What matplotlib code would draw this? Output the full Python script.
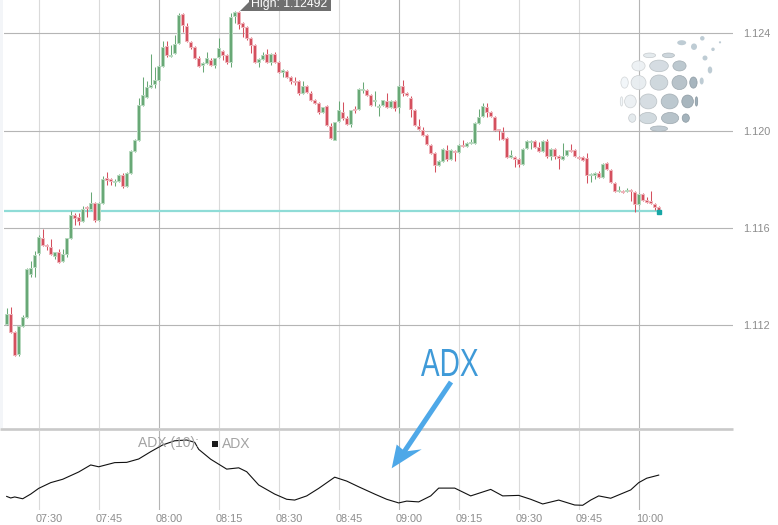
import numpy as np
import pandas as pd
import matplotlib
matplotlib.use('Agg')
import matplotlib.pyplot as plt
import matplotlib.transforms as mtrans
from matplotlib.patches import Polygon, Ellipse, PathPatch, Rectangle
from matplotlib.textpath import TextPath
from matplotlib.font_manager import FontProperties

# 1-minute candles, EUR/USD style quotes
start = '2019-01-01 07:22'
opens = [1.11205, 1.11246, 1.11172, 1.11082, 1.11197, 1.11234, 1.11411, 1.11440, 1.11497, 1.11559,
         1.11530, 1.11522, 1.11485, 1.11501, 1.11464, 1.11493, 1.11559, 1.11653, 1.11645, 1.11629,
         1.11686, 1.11678, 1.11703, 1.11633, 1.11703, 1.11805, 1.11801, 1.11789, 1.11793, 1.11818,
         1.11772, 1.11826, 1.11916, 1.11962, 1.12105, 1.12138, 1.12179, 1.12192, 1.12208, 1.12266,
         1.12348, 1.12307, 1.12319, 1.12360, 1.12479, 1.12430, 1.12364, 1.12344, 1.12299, 1.12270,
         1.12278, 1.12290, 1.12270, 1.12303, 1.12327, 1.12311, 1.12282, 1.12471, 1.12488, 1.12442,
         1.12426, 1.12381, 1.12352, 1.12282, 1.12294, 1.12315, 1.12282, 1.12315, 1.12282, 1.12241,
         1.12245, 1.12220, 1.12204, 1.12204, 1.12155, 1.12183, 1.12155, 1.12126, 1.12114, 1.12077,
         1.12101, 1.12019, 1.11962, 1.12040, 1.12077, 1.12052, 1.12027, 1.12089, 1.12089, 1.12169,
         1.12167, 1.12146, 1.12120, 1.12097, 1.12105, 1.12122, 1.12097, 1.12122, 1.12097, 1.12183,
         1.12155, 1.12134, 1.12085, 1.12019, 1.12003, 1.11982, 1.11941, 1.11908, 1.11859, 1.11875,
         1.11920, 1.11883, 1.11916, 1.11912, 1.11941, 1.11937, 1.11949, 1.11949, 1.12031, 1.12060,
         1.12097, 1.12077, 1.12056, 1.12003, 1.11995, 1.11970, 1.11892, 1.11892, 1.11883, 1.11863,
         1.11929, 1.11953, 1.11957, 1.11933, 1.11916, 1.11957, 1.11896, 1.11925, 1.11896, 1.11883,
         1.11900, 1.11920, 1.11920, 1.11892, 1.11892, 1.11888, 1.11818, 1.11818, 1.11826, 1.11810,
         1.11867, 1.11838, 1.11785, 1.11752, 1.11752, 1.11752, 1.11756, 1.11748, 1.11699, 1.11740,
         1.11715, 1.11711, 1.11699, 1.11686]
highs = [1.11271, 1.11275, 1.11177, 1.11197, 1.11242, 1.11436, 1.11464, 1.11505, 1.11571, 1.11596,
         1.11534, 1.11555, 1.11501, 1.11514, 1.11514, 1.11559, 1.11670, 1.11662, 1.11662, 1.11690,
         1.11690, 1.11748, 1.11707, 1.11707, 1.11814, 1.11830, 1.11805, 1.11801, 1.11822, 1.11826,
         1.11830, 1.11920, 1.11966, 1.12134, 1.12220, 1.12204, 1.12315, 1.12262, 1.12270, 1.12369,
         1.12369, 1.12352, 1.12393, 1.12484, 1.12484, 1.12442, 1.12369, 1.12348, 1.12307, 1.12282,
         1.12323, 1.12299, 1.12299, 1.12381, 1.12332, 1.12315, 1.12484, 1.12492, 1.12492, 1.12447,
         1.12430, 1.12385, 1.12356, 1.12299, 1.12323, 1.12336, 1.12319, 1.12323, 1.12286, 1.12253,
         1.12249, 1.12225, 1.12220, 1.12208, 1.12204, 1.12188, 1.12163, 1.12130, 1.12118, 1.12097,
         1.12105, 1.12031, 1.12036, 1.12122, 1.12118, 1.12060, 1.12085, 1.12101, 1.12175, 1.12200,
         1.12171, 1.12151, 1.12163, 1.12110, 1.12126, 1.12155, 1.12126, 1.12126, 1.12188, 1.12208,
         1.12159, 1.12142, 1.12089, 1.12048, 1.12015, 1.11986, 1.11945, 1.11912, 1.11879, 1.11929,
         1.11941, 1.11925, 1.11920, 1.11945, 1.11962, 1.11953, 1.11966, 1.12036, 1.12089, 1.12114,
         1.12114, 1.12081, 1.12060, 1.12007, 1.12015, 1.11974, 1.11920, 1.11896, 1.11888, 1.11929,
         1.11962, 1.11962, 1.11962, 1.11953, 1.11962, 1.11966, 1.11929, 1.11929, 1.11900, 1.11949,
         1.11920, 1.11945, 1.11925, 1.11896, 1.11896, 1.11908, 1.11826, 1.11830, 1.11834, 1.11867,
         1.11871, 1.11842, 1.11789, 1.11773, 1.11756, 1.11764, 1.11760, 1.11752, 1.11744, 1.11744,
         1.11727, 1.11752, 1.11703, 1.11690]
lows = [1.11201, 1.11168, 1.11074, 1.11074, 1.11193, 1.11230, 1.11399, 1.11399, 1.11489, 1.11526,
        1.11510, 1.11489, 1.11473, 1.11456, 1.11460, 1.11481, 1.11555, 1.11612, 1.11612, 1.11625,
        1.11645, 1.11674, 1.11625, 1.11629, 1.11699, 1.11777, 1.11777, 1.11773, 1.11789, 1.11764,
        1.11768, 1.11822, 1.11912, 1.11957, 1.12101, 1.12134, 1.12175, 1.12175, 1.12204, 1.12262,
        1.12303, 1.12303, 1.12315, 1.12356, 1.12405, 1.12364, 1.12336, 1.12294, 1.12262, 1.12241,
        1.12274, 1.12266, 1.12257, 1.12299, 1.12290, 1.12274, 1.12262, 1.12442, 1.12418, 1.12385,
        1.12373, 1.12319, 1.12278, 1.12262, 1.12290, 1.12278, 1.12270, 1.12278, 1.12237, 1.12220,
        1.12216, 1.12192, 1.12188, 1.12146, 1.12151, 1.12155, 1.12122, 1.12110, 1.12068, 1.12073,
        1.12019, 1.11966, 1.11960, 1.12036, 1.12044, 1.12023, 1.12015, 1.12073, 1.12085, 1.12155,
        1.12142, 1.12101, 1.12101, 1.12060, 1.12101, 1.12093, 1.12093, 1.12081, 1.12073, 1.12142,
        1.12142, 1.12056, 1.12019, 1.12003, 1.11978, 1.11941, 1.11904, 1.11830, 1.11855, 1.11873,
        1.11875, 1.11879, 1.11875, 1.11910, 1.11933, 1.11933, 1.11947, 1.11945, 1.12027, 1.12058,
        1.12056, 1.12056, 1.11999, 1.11962, 1.11962, 1.11888, 1.11888, 1.11851, 1.11851, 1.11859,
        1.11925, 1.11925, 1.11929, 1.11912, 1.11912, 1.11888, 1.11879, 1.11883, 1.11842, 1.11881,
        1.11896, 1.11912, 1.11892, 1.11883, 1.11875, 1.11785, 1.11789, 1.11801, 1.11805, 1.11805,
        1.11838, 1.11785, 1.11748, 1.11748, 1.11744, 1.11748, 1.11711, 1.11666, 1.11694, 1.11711,
        1.11703, 1.11699, 1.11674, 1.11666]
closes = [1.11246, 1.11172, 1.11078, 1.11197, 1.11234, 1.11431, 1.11436, 1.11489, 1.11563, 1.11530,
          1.11526, 1.11493, 1.11501, 1.11460, 1.11493, 1.11559, 1.11653, 1.11641, 1.11629, 1.11678,
          1.11682, 1.11703, 1.11633, 1.11703, 1.11801, 1.11797, 1.11793, 1.11793, 1.11818, 1.11772,
          1.11826, 1.11916, 1.11962, 1.12105, 1.12146, 1.12179, 1.12188, 1.12208, 1.12266, 1.12344,
          1.12311, 1.12311, 1.12356, 1.12475, 1.12434, 1.12369, 1.12344, 1.12299, 1.12266, 1.12278,
          1.12299, 1.12270, 1.12299, 1.12340, 1.12311, 1.12282, 1.12467, 1.12488, 1.12438, 1.12426,
          1.12381, 1.12352, 1.12282, 1.12294, 1.12311, 1.12282, 1.12315, 1.12282, 1.12241, 1.12249,
          1.12220, 1.12204, 1.12200, 1.12155, 1.12183, 1.12159, 1.12126, 1.12114, 1.12077, 1.12097,
          1.12023, 1.11970, 1.12036, 1.12085, 1.12052, 1.12027, 1.12085, 1.12085, 1.12171, 1.12171,
          1.12146, 1.12105, 1.12122, 1.12101, 1.12126, 1.12097, 1.12122, 1.12093, 1.12183, 1.12155,
          1.12146, 1.12089, 1.12023, 1.12007, 1.11982, 1.11945, 1.11908, 1.11859, 1.11875, 1.11925,
          1.11883, 1.11920, 1.11912, 1.11941, 1.11937, 1.11949, 1.11953, 1.12031, 1.12056, 1.12101,
          1.12077, 1.12060, 1.12003, 1.12001, 1.11966, 1.11892, 1.11900, 1.11883, 1.11863, 1.11925,
          1.11957, 1.11957, 1.11933, 1.11916, 1.11957, 1.11896, 1.11925, 1.11896, 1.11888, 1.11896,
          1.11920, 1.11918, 1.11896, 1.11888, 1.11879, 1.11818, 1.11822, 1.11826, 1.11810, 1.11863,
          1.11842, 1.11789, 1.11752, 1.11754, 1.11748, 1.11756, 1.11752, 1.11699, 1.11740, 1.11715,
          1.11707, 1.11703, 1.11686, 1.11668]

# ADX(10) read at these candle numbers
adx_at = [0, 1, 2, 4, 6, 8, 11, 14, 18, 21, 23, 27, 30, 33, 36, 39, 42, 45, 47, 48,
          51, 53, 55, 58, 60, 63, 67, 70, 72, 75, 78, 82, 85, 88, 92, 95, 98, 100, 103, 106,
          108, 112, 116, 121, 124, 128, 131, 134, 138, 142, 144, 146, 148, 151, 156, 158, 160, 163]
adx_vals = [18.3, 17.7, 18.1, 17.4, 19.2, 21.4, 23.6, 24.9, 27.7, 30.4, 29.7, 31.3, 31.4, 32.7, 35.5,
            38.1, 39.7, 40.0, 39.1, 36.4, 32.6, 30.7, 28.8, 29.3, 27.8, 22.7, 19.2, 17.2, 16.9, 18.5,
            21.4, 25.7, 24.2, 22.0, 19.2, 17.2, 15.8, 16.5, 16.2, 18.5, 21.5, 21.5, 18.5, 21.0, 18.5,
            18.7, 17.2, 15.4, 16.9, 15.0, 14.9, 16.9, 18.5, 17.6, 20.8, 23.6, 25.3, 26.5]

price_ticks = [1.112, 1.116, 1.120, 1.124]
price_labels = ['1.112', '1.116', '1.120', '1.124']

times = pd.date_range(start, periods=len(closes), freq='min')
idx = np.arange(len(closes))
o = np.array(opens); h = np.array(highs); l = np.array(lows); c = np.array(closes)

W, H = 778, 525
plt.rcParams['font.family'] = ['Liberation Sans', 'DejaVu Sans']
fig = plt.figure(figsize=(W / 100, H / 100), dpi=100)

def rect(x0, y0, x1, y1):
    return [x0 / W, 1 - y1 / H, (x1 - x0) / W, (y1 - y0) / H]

ax = fig.add_axes(rect(4, 0, 733, 428))
adx_ax = fig.add_axes(rect(4, 431, 733, 510))
for a in (ax, adx_ax):
    for s in a.spines.values():
        s.set_visible(False)
    a.set_xlim(-0.675, 181.575)
    a.set_xticks([])

tick_idx = [i for i, t in enumerate(times) if t.minute % 15 == 0]
for i in tick_idx:
    col = '#b5b5b5' if times[i].minute == 0 else '#dadada'
    ax.axvline(i, color=col, lw=0.8, zorder=0)
    adx_ax.axvline(i, color=col, lw=0.8, zorder=0)
for p in price_ticks:
    ax.axhline(p, color='#b5b5b5', lw=0.8, zorder=0)

# candles
up = c >= o
green, red = '#68a876', '#d4505e'
cols = np.where(up, green, red)
edges = np.where(up, '#b7d9bf', '#efb4bb')
ax.vlines(idx, l, h, colors=cols, lw=0.75, zorder=2)
body_lo = np.minimum(o, c)
body_h = np.maximum(np.abs(c - o), 0.00004)
ax.bar(idx, body_h, bottom=body_lo, width=0.85, color=cols, edgecolor=edges, lw=0.7, zorder=3)

# last price
ax.hlines(c[-1], -0.675, idx[-1], color='#8fdcd7', lw=1.6, zorder=1)
ax.plot(idx[-1], c[-1] - 0.00003, 's', ms=3.5, color='#17a6a5', zorder=4)

ax.set_ylim(1.10778, 1.12537)
ax.yaxis.tick_right()
ax.set_yticks(price_ticks)
ax.set_yticklabels(price_labels)
ax.tick_params(axis='y', length=0, pad=7, labelsize=7.8, labelcolor='#8c8c8c')

# ADX panel
adx_ax.plot(adx_at, adx_vals, color='#111111', lw=0.8, zorder=3)
adx_ax.set_ylim(13.08, 43.46)
adx_ax.set_yticks([])

trans = mtrans.blended_transform_factory(adx_ax.transData, fig.transFigure)
trans = mtrans.offset_copy(trans, fig=fig, x=10.7, y=0, units='dots')
for i in tick_idx:
    adx_ax.text(i, 1 - 519 / H, times[i].strftime('%H:%M'), transform=trans,
                ha='center', va='center', fontsize=7.8, color='#8c8c8c')

# overlay in pixel coords for decorations
ov = fig.add_axes([0, 0, 1, 1], zorder=10)
ov.set_xlim(0, W)
ov.set_ylim(H, 0)
ov.axis('off')
ov.patch.set_alpha(0)

ov.add_patch(Rectangle((0, 0), 3, 428, color='#f3f5f8', lw=0))
ov.plot([0, 733], [429.3, 429.3], color='#c9c9c9', lw=1.9, solid_capstyle='butt')

ov.text(138, 443.5, 'ADX (10):', fontsize=10, color='#a3a3a3', va='center')
ov.add_patch(Rectangle((212.3, 440.7), 6, 6, color='#1a1a1a', lw=0))
ov.text(221.7, 443.5, 'ADX', fontsize=10, color='#a3a3a3', va='center')

# high callout
ov.add_patch(Polygon([(240, 11), (249, 2), (249, -10), (331, -10), (331, 11)],
                     closed=True, color='#6f6f6f', lw=0))
ov.text(251, 7.5, 'High: 1.12492', fontsize=8.8, color='white', va='baseline')

# ADX note with arrow
tp = TextPath((0, 0), 'ADX', size=1, prop=FontProperties(family='Liberation Sans'))
ext = tp.get_extents()
sx = 57 / ext.width
sy = 27 / ext.height
tf = mtrans.Affine2D().translate(-ext.x0, -ext.y0).scale(sx, -sy).translate(421, 376)
ov.add_patch(PathPatch(tf.transform_path(tp), color='#3f9ad8', lw=0))
blue = '#4ea8e8'
ov.plot([451, 404], [382, 452], color=blue, lw=3.6, solid_capstyle='butt')
ov.add_patch(Polygon([(391.7, 468.3), (396.7, 444.5), (405, 451.5), (421.7, 449.3)],
                     closed=True, color=blue, lw=0))

# watermark logo (dotted sphere)
cx, cy, r = 659, 92, 39
light = np.array([0.95, 0.965, 0.975])
dark = np.array([0.60, 0.665, 0.705])
for row, lat in enumerate([-70, -42, -14, 14, 42, 70]):
    cb = np.cos(np.radians(lat))
    n = max(4, int(round(11 * cb)))
    for k in range(n):
        lon = -180 + (k + 0.5 * (row % 2)) * 360.0 / n
        cl = np.cos(np.radians(lon))
        if cl < 0.12:
            continue
        x = cx + r * cb * np.sin(np.radians(lon))
        y = cy - r * np.sin(np.radians(lat))
        w = 2 * np.pi * r * cb / n * 0.82 * cl
        hh = r * np.radians(28) * 0.82 * cb * (0.55 + 0.45 * cl)
        if w < 1.5 or hh < 1.5:
            continue
        t = np.clip(0.45 + 0.55 * (x - cx) / r + 0.15 * (y - cy) / r, 0, 1)
        fc = light * (1 - t) + dark * t
        ov.add_patch(Ellipse((x, y), w, hh, facecolor=fc, edgecolor=fc * 0.86, lw=0.5, alpha=0.95))
for (x, y, w, hh) in [(681.7, 42.7, 9, 5), (694, 46.7, 6, 6.5), (702.3, 38.3, 4.5, 4.5),
                      (713, 49.3, 3.5, 3.5), (720, 42.3, 2.2, 2.2), (705, 58, 5, 5),
                      (710, 70, 4.5, 7), (701.7, 81, 4, 7)]:
    ov.add_patch(Ellipse((x, y), w, hh, facecolor=dark + 0.1, edgecolor='none', alpha=0.85))

fig.savefig('out.png', dpi=100)
